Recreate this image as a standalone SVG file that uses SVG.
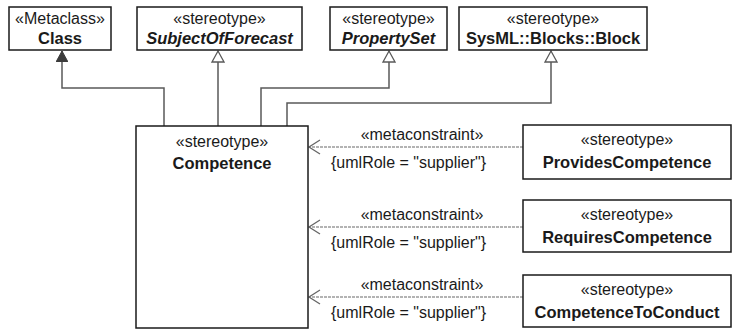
<svg xmlns="http://www.w3.org/2000/svg" width="734" height="330" viewBox="0 0 734 330">
<defs>
<style>
.box{fill:#fff;stroke:#1a1a1a;stroke-width:1.5}
.t{font-family:"Liberation Sans",Arial,sans-serif;font-size:16px;fill:#1a1a1a;text-anchor:middle}
.b{font-weight:bold;font-size:16.5px}
.i{font-style:italic}
.gen{fill:none;stroke:#595959;stroke-width:1.5}
.dep{fill:none;stroke:#9a9a9a;stroke-width:1.3;stroke-dasharray:3,1}
.lbl{font-family:"Liberation Sans",Arial,sans-serif;font-size:16px;fill:#1a1a1a}
</style>
<marker id="filled" viewBox="0 0 12 12" markerWidth="12" markerHeight="12" refX="11" refY="6" orient="auto" markerUnits="userSpaceOnUse">
<path d="M0,0 L11,6 L0,12 Z" fill="#3c3c3c" stroke="#3c3c3c" stroke-width="1"/>
</marker>
<marker id="hollow" viewBox="0 0 14 14" markerWidth="14" markerHeight="14" refX="12" refY="7" orient="auto" markerUnits="userSpaceOnUse">
<path d="M1,1 L12,7 L1,13 Z" fill="#fff" stroke="#595959" stroke-width="1.3"/>
</marker>
<marker id="open" viewBox="0 0 14 16" markerWidth="14" markerHeight="16" refX="12" refY="8" orient="auto" markerUnits="userSpaceOnUse">
<path d="M1,1 L12,8 L1,15" fill="none" stroke="#666" stroke-width="1.3"/>
</marker>
</defs>
<rect width="734" height="330" fill="#fff"/>
<g id="connectors">
<polyline class="gen" points="164,126 164,88 62,88 62,51" marker-end="url(#filled)"/>
<polyline class="gen" points="218,126 218,51" marker-end="url(#hollow)"/>
<polyline class="gen" points="261,126 261,88 389,88 389,51" marker-end="url(#hollow)"/>
<polyline class="gen" points="287,126 287,103 551,103 551,51" marker-end="url(#hollow)"/>
<line class="dep" x1="523" y1="147" x2="309" y2="147" marker-end="url(#open)"/>
<line class="dep" x1="523" y1="227" x2="309" y2="227" marker-end="url(#open)"/>
<line class="dep" x1="523" y1="297" x2="309" y2="297" marker-end="url(#open)"/>
<text class="lbl" x="422" y="140" text-anchor="middle">«metaconstraint»</text>
<text class="lbl" x="331" y="168">{umlRole = "supplier"}</text>
<text class="lbl" x="422" y="220" text-anchor="middle">«metaconstraint»</text>
<text class="lbl" x="331" y="248">{umlRole = "supplier"}</text>
<text class="lbl" x="422" y="290" text-anchor="middle">«metaconstraint»</text>
<text class="lbl" x="331" y="318">{umlRole = "supplier"}</text>
</g>
<g id="class">
<rect class="box" x="9" y="7" width="102" height="43"/>
<text class="t" x="60" y="24">«Metaclass»</text>
<text class="t b" x="60" y="44">Class</text>
</g>
<g id="subjectOfForecast">
<rect class="box" x="137" y="7" width="165" height="43"/>
<text class="t" x="219.5" y="24">«stereotype»</text>
<text class="t b i" x="219.5" y="44">SubjectOfForecast</text>
</g>
<g id="propertySet">
<rect class="box" x="330" y="7" width="117" height="43"/>
<text class="t" x="388.5" y="24">«stereotype»</text>
<text class="t b i" x="388.5" y="44">PropertySet</text>
</g>
<g id="block">
<rect class="box" x="459" y="7" width="188" height="43"/>
<text class="t" x="553" y="24">«stereotype»</text>
<text class="t b" x="553" y="44">SysML::Blocks::Block</text>
</g>
<g id="competence">
<rect class="box" x="136" y="126" width="172" height="202"/>
<text class="t" x="222" y="147">«stereotype»</text>
<text class="t b" x="222" y="169">Competence</text>
</g>
<g id="providesCompetence">
<rect class="box" x="523" y="125" width="208" height="54"/>
<text class="t" x="627" y="145">«stereotype»</text>
<text class="t b" x="627" y="168">ProvidesCompetence</text>
</g>
<g id="requiresCompetence">
<rect class="box" x="523" y="200" width="208" height="52"/>
<text class="t" x="627" y="220">«stereotype»</text>
<text class="t b" x="627" y="243">RequiresCompetence</text>
</g>
<g id="competenceToConduct">
<rect class="box" x="523" y="275" width="208" height="52"/>
<text class="t" x="627" y="295">«stereotype»</text>
<text class="t b" x="627" y="318">CompetenceToConduct</text>
</g>
</svg>
